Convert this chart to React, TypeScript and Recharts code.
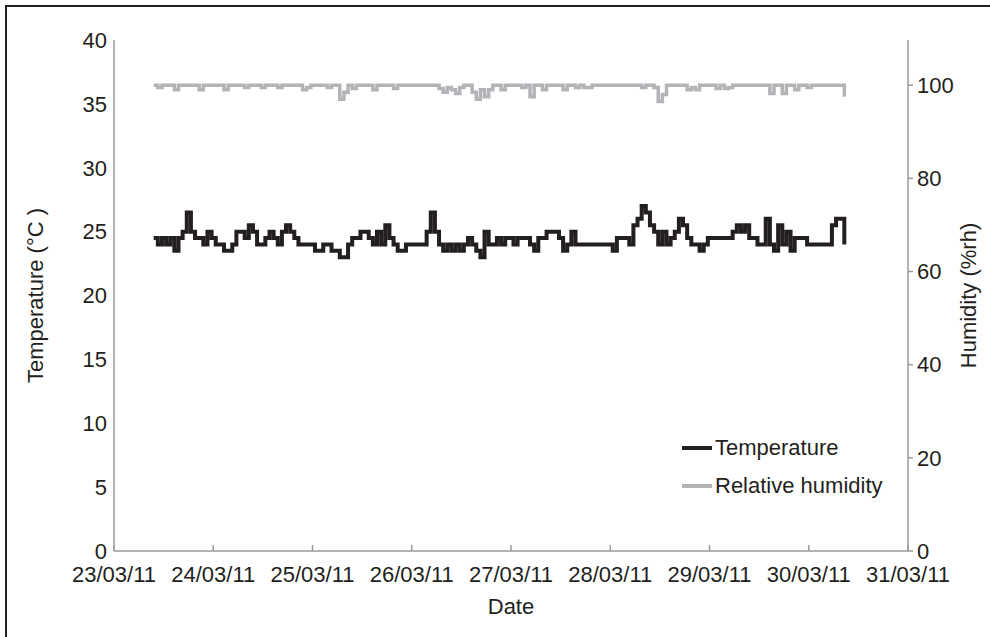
import React from 'react';
import { LineChart, Line, XAxis, YAxis, Legend, Label } from 'recharts';

// hourly readings, first one on 23/03/11 around 09:30
const START_DAY = 23.4;

const temperature = [
  24.5, 24, 24.5, 24, 24.5, 23.5, 24.5, 25, 26.5, 25,
  24.5, 24.5, 24, 25, 24.5, 24, 24, 23.5, 23.5, 24,
  25, 25, 24.5, 25.5, 25, 24, 24, 24.5, 25, 24.5,
  24, 25, 25.5, 25, 24.5, 24, 24, 24, 24, 23.5,
  23.5, 24, 24, 23.5, 23.5, 23, 23, 24, 24.5, 24.5,
  25, 25, 24.5, 24, 25, 24, 25.5, 24.5, 24, 23.5,
  23.5, 24, 24, 24, 24, 24, 25, 26.5, 25, 24,
  23.5, 24, 23.5, 24, 23.5, 24, 24.5, 24, 23.5, 23,
  25, 24, 24, 24.5, 24, 24.5, 24.5, 24, 24.5, 24.5,
  24.5, 24, 23.5, 24.5, 24.5, 25, 25, 25, 24.5, 23.5,
  24, 25, 24, 24, 24, 24, 24, 24, 24, 24,
  24, 23.5, 24.5, 24.5, 24.5, 24, 25.5, 26, 27, 26.5,
  25.5, 25, 24, 25, 24, 24.5, 25, 26, 25.5, 24.5,
  24, 24, 23.5, 24, 24.5, 24.5, 24.5, 24.5, 24.5, 24.5,
  25, 25.5, 25, 25.5, 24.5, 24.5, 24, 24, 26, 24,
  23.5, 25.5, 24, 25, 23.5, 24.5, 24.5, 24.5, 24, 24,
  24, 24, 24, 24, 25.5, 26, 26, 24,
];

const humidity = [
  100, 99.5, 100, 100, 100, 99, 100, 100, 100, 100,
  100, 99, 100, 100, 100, 100, 100, 99, 100, 100,
  100, 100, 99.5, 100, 100, 100, 99.5, 100, 100, 100,
  99.5, 100, 100, 100, 100, 100, 99, 99.5, 100, 100,
  100, 100, 99.5, 100, 100, 97, 98.5, 100, 99.3, 100,
  100, 100, 100, 99, 100, 100, 100, 100, 99.3, 100,
  100, 100, 100, 100, 100, 100, 100, 100, 100, 99.3,
  98.5, 99.5, 99, 98.2, 99.5, 100, 100, 98.5, 97, 99,
  97.5, 99, 100, 100, 99, 100, 100, 100, 100, 99.5,
  100, 97.5, 100, 100, 99, 100, 100, 100, 100, 99,
  100, 100, 99.5, 100, 99.5, 99.5, 100, 100, 100, 100,
  100, 100, 100, 100, 100, 100, 100, 100, 99.5, 100,
  100, 99.5, 96.5, 98, 100, 100, 100, 100, 100, 99,
  99.5, 99, 100, 100, 100, 100, 99.3, 100, 99.3, 99.5,
  100, 100, 100, 100, 100, 100, 100, 100, 100, 98.2,
  100, 100, 98.2, 100, 100, 99, 100, 100, 99.5, 100,
  100, 100, 100, 100, 100, 100, 100, 97.5,
];

const dayTicks = [23, 24, 25, 26, 27, 28, 29, 30, 31];
const tempTicks = [0, 5, 10, 15, 20, 25, 30, 35, 40];
const humTicks = [0, 20, 40, 60, 80, 100];

const data = temperature.map((t, i) => ({
  day: START_DAY + i / 24,
  temperature: t,
  humidity: humidity[i],
}));

const FONT = '"Liberation Sans", Arial, sans-serif';
const FS = 22;
const TEXT = '#231f20';
const AXIS = '#9a9a9a';
const TEMP_COLOR = '#231f20';
const HUM_COLOR = '#b3b3b8';

const DateTick = (props: any) => {
  const { x, y, payload } = props;
  const d = String(payload.value).padStart(2, '0');
  return (
    <g>
      <line x1={x} x2={x} y1={y - 21} y2={y - 15} stroke={AXIS} strokeWidth={1.5} />
      <text x={x} y={y} dy="0.71em" textAnchor="middle" fill={TEXT} fontSize={FS} fontFamily={FONT}>
        {`${d}/03/11`}
      </text>
    </g>
  );
};

const LegendBox = () => (
  <div style={{ fontFamily: FONT, fontSize: FS, color: TEXT }}>
    {[
      { name: 'Temperature', color: TEMP_COLOR },
      { name: 'Relative humidity', color: HUM_COLOR },
    ].map((it) => (
      <div key={it.name} style={{ display: 'flex', alignItems: 'center', height: 38 }}>
        <span style={{ display: 'inline-block', width: 30, height: 4, background: it.color, marginRight: 3 }} />
        <span>{it.name}</span>
      </div>
    ))}
  </div>
);

export default function App() {
  return (
    <div style={{ position: 'absolute', left: 0, top: 0, width: 990, height: 637, background: '#fff' }}>
      <div
        style={{
          position: 'absolute',
          left: 5,
          top: 5,
          width: 990,
          height: 640,
          borderLeft: '2px solid #231f20',
          borderTop: '2px solid #231f20',
        }}
      />
      <LineChart
        width={990}
        height={637}
        data={data}
        margin={{ top: 40, right: 22, bottom: 23, left: 54 }}
        style={{ position: 'absolute', left: 0, top: 0 }}
      >
        <XAxis
          dataKey="day"
          type="number"
          domain={[23, 31]}
          ticks={dayTicks}
          interval={0}
          height={63}
          stroke={AXIS}
          strokeWidth={1.5}
          tickLine={false}
          tickSize={0}
          tickMargin={15}
          tick={<DateTick />}
        >
          <Label value="Date" position="insideBottom" offset={0} fill={TEXT} fontSize={FS} fontFamily={FONT} />
        </XAxis>
        <YAxis
          yAxisId="t"
          domain={[0, 40]}
          ticks={tempTicks}
          interval={0}
          width={60}
          stroke={AXIS}
          strokeWidth={1.5}
          tickLine={false}
          tickSize={0}
          tickMargin={7}
          tick={{ fill: TEXT, fontSize: FS, fontFamily: FONT }}
        >
          <Label
            content={(p: any) => {
              const vb = p.viewBox;
              const cx = vb.x - 19;
              const cy = vb.y + vb.height / 2;
              return (
                <text x={cx} y={cy} transform={`rotate(-90 ${cx} ${cy})`} textAnchor="middle" dominantBaseline="central" fill={TEXT} fontSize={FS} fontFamily={FONT}>
                  Temperature (°C )
                </text>
              );
            }}
          />
        </YAxis>
        <YAxis
          yAxisId="h"
          orientation="right"
          domain={[0, 109.7]}
          ticks={humTicks}
          interval={0}
          width={60}
          stroke={AXIS}
          strokeWidth={1.5}
          tickSize={5}
          tickMargin={4}
          tick={{ fill: TEXT, fontSize: FS, fontFamily: FONT }}
        >
          <Label
            content={(p: any) => {
              const vb = p.viewBox;
              const cx = vb.x + 60;
              const cy = vb.y + vb.height / 2;
              return (
                <text x={cx} y={cy} transform={`rotate(-90 ${cx} ${cy})`} textAnchor="middle" dominantBaseline="central" fill={TEXT} fontSize={FS} fontFamily={FONT}>
                  Humidity (%rh)
                </text>
              );
            }}
          />
        </YAxis>
        <Legend
          layout="vertical"
          align="center"
          verticalAlign="middle"
          content={<LegendBox />}
          wrapperStyle={{ left: 682, top: 429, width: 230 }}
        />
        <Line
          yAxisId="h"
          dataKey="humidity"
          type="stepAfter"
          stroke={HUM_COLOR}
          strokeWidth={3.5}
          dot={false}
          isAnimationActive={false}
        />
        <Line
          yAxisId="t"
          dataKey="temperature"
          type="stepAfter"
          stroke={TEMP_COLOR}
          strokeWidth={4}
          dot={false}
          isAnimationActive={false}
        />
      </LineChart>
    </div>
  );
}
